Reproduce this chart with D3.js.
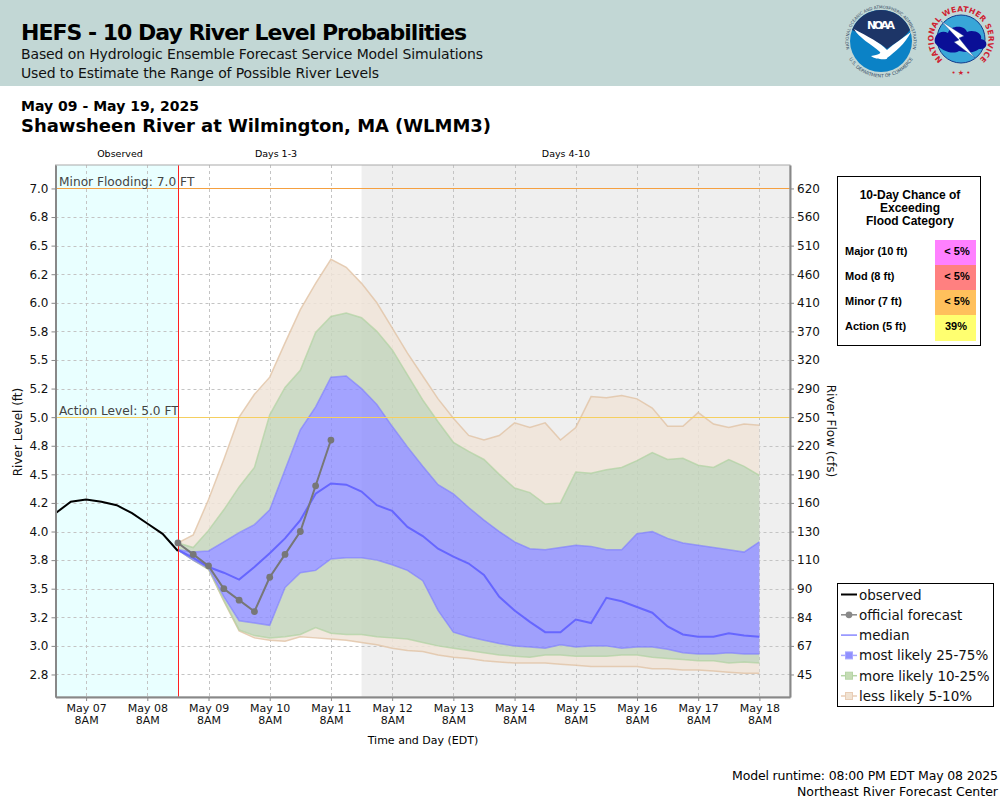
<!DOCTYPE html>
<html lang="en">
<head>
  <meta charset="UTF-8">
  <title>HEFS - 10 Day River Level Probabilities</title>
  <script src="https://d3js.org/d3.v7.min.js"></script>
  <style>
    html, body { margin: 0; padding: 0; background: #fff; }
    svg { display: block; font-family: "DejaVu Sans", sans-serif; }
  </style>
</head>
<body>
  <svg id="chart" width="1000" height="800"></svg>
  <script>
    // axis labels
    const levelTicks = [7, 6.75, 6.5, 6.25, 6, 5.75, 5.5, 5.25, 5, 4.75, 4.5, 4.25, 4, 3.75, 3.5, 3.25, 3, 2.75];
    const levelLabels = ['7.0', '6.8', '6.5', '6.2', '6.0', '5.8', '5.5', '5.2', '5.0', '4.8', '4.5', '4.2', '4.0', '3.8', '3.5', '3.2', '3.0', '2.8'];
    const flowLabels = ['620', '560', '510', '460', '410', '370', '320', '290', '250', '220', '190', '160', '130', '110', '90', '84', '67', '45'];
    const dayLabels = ['May 07', 'May 08', 'May 09', 'May 10', 'May 11', 'May 12', 'May 13', 'May 14', 'May 15', 'May 16', 'May 17', 'May 18'];

    // levels in feet, one value every 6 hours
    const observed = [4.16, 4.26, 4.28, 4.26, 4.23, 4.16, 4.07, 3.98, 3.83];
    const official = [3.9, 3.8, 3.7, 3.5, 3.4, 3.3, 3.6, 3.8, 4.0, 4.4, 4.8];
    const median = [3.84, 3.77, 3.69, 3.64, 3.58, 3.69, 3.81, 3.94, 4.10, 4.33, 4.42, 4.41, 4.35, 4.23, 4.18, 4.04, 3.96, 3.85, 3.78, 3.72, 3.62, 3.43, 3.31, 3.21, 3.12, 3.12, 3.23, 3.20, 3.42, 3.39, 3.34, 3.29, 3.17, 3.10, 3.08, 3.08, 3.11, 3.09, 3.08];
    const tanTop = [3.90, 3.97, 4.28, 4.63, 5.00, 5.20, 5.35, 5.65, 5.94, 6.17, 6.38, 6.31, 6.17, 6.00, 5.78, 5.56, 5.36, 5.16, 4.99, 4.84, 4.80, 4.84, 4.95, 4.91, 4.95, 4.80, 4.91, 5.18, 5.17, 5.19, 5.16, 5.08, 4.92, 4.92, 5.04, 4.94, 4.91, 4.94, 4.93];
    const greenTop = [3.90, 3.86, 4.01, 4.19, 4.39, 4.56, 5.02, 5.26, 5.41, 5.74, 5.88, 5.91, 5.87, 5.75, 5.59, 5.37, 5.15, 4.96, 4.78, 4.70, 4.63, 4.50, 4.38, 4.34, 4.24, 4.25, 4.52, 4.51, 4.54, 4.56, 4.62, 4.69, 4.63, 4.64, 4.58, 4.56, 4.63, 4.57, 4.49];
    const blueTop = [3.84, 3.82, 3.83, 3.91, 3.99, 4.06, 4.19, 4.54, 4.89, 5.09, 5.35, 5.36, 5.25, 5.11, 4.92, 4.74, 4.57, 4.41, 4.33, 4.21, 4.10, 4.00, 3.91, 3.85, 3.84, 3.86, 3.88, 3.87, 3.84, 3.84, 3.98, 4.00, 3.94, 3.90, 3.88, 3.86, 3.84, 3.82, 3.91];
    const blueBottom = [3.84, 3.75, 3.68, 3.43, 3.22, 3.20, 3.18, 3.51, 3.64, 3.66, 3.76, 3.77, 3.77, 3.75, 3.71, 3.66, 3.57, 3.31, 3.12, 3.08, 3.05, 3.02, 3.00, 2.99, 2.98, 3.01, 2.99, 3.00, 3.00, 2.98, 2.99, 2.99, 2.97, 2.94, 2.93, 2.93, 2.94, 2.93, 2.93];
    const greenBottom = [3.84, 3.75, 3.67, 3.40, 3.14, 3.09, 3.07, 3.08, 3.10, 3.16, 3.11, 3.10, 3.10, 3.08, 3.07, 3.06, 3.03, 3.00, 2.98, 2.96, 2.94, 2.92, 2.91, 2.90, 2.92, 2.92, 2.91, 2.91, 2.91, 2.92, 2.92, 2.90, 2.89, 2.88, 2.87, 2.87, 2.85, 2.86, 2.85];
    const tanBottom = [3.84, 3.75, 3.67, 3.39, 3.13, 3.07, 3.05, 3.04, 3.08, 3.07, 3.06, 3.05, 3.03, 3.01, 2.98, 2.96, 2.95, 2.92, 2.90, 2.89, 2.87, 2.86, 2.85, 2.85, 2.85, 2.84, 2.83, 2.82, 2.82, 2.82, 2.82, 2.80, 2.80, 2.79, 2.79, 2.78, 2.77, 2.76, 2.76];

    // flood table
    const floodCategories = ['Major (10 ft)', 'Mod (8 ft)', 'Minor (7 ft)', 'Action (5 ft)'];
    const floodChances = ['< 5%', '< 5%', '< 5%', '39%'];
    const floodColors = ['#ff80ff', '#ff8080', '#ffc05c', '#ffff70'];

    const HOUR = 3600000;
    const start = Date.UTC(2025, 4, 6, 20);
    const forecastStart = Date.UTC(2025, 4, 8, 20);
    const grayStart = Date.UTC(2025, 4, 11, 20);
    const end = Date.UTC(2025, 4, 18, 20);
    const days = dayLabels.map((d, i) => Date.UTC(2025, 4, 7 + i, 8));

    const plotLeft = 55.5, plotRight = 790, plotTop = 165, plotBottom = 697;
    const x = d3.scaleUtc().domain([start, end]).range([plotLeft, plotRight]);
    const y = d3.scaleLinear().domain([2.553, 7.205]).range([plotBottom, plotTop]);
    const crisp = v => Math.round(v) + 0.5;

    const svg = d3.select('#chart');

    // header
    svg.append('rect').attr('width', 1000).attr('height', 86).attr('fill', '#c2d7d5');
    function label(txt, px, py, size, weight, anchor, family) {
      return svg.append('text').attr('x', px).attr('y', py)
        .attr('font-size', size).attr('font-weight', weight || 'normal')
        .attr('text-anchor', anchor || 'start')
        .attr('font-family', family || null)
        .attr('fill', '#000').text(txt);
    }
    label('HEFS - 10 Day River Level Probabilities', 21, 40, 22, 'bold').attr('textLength', 446);
    label('Based on Hydrologic Ensemble Forecast Service Model Simulations', 21, 59, 14, 'normal').attr('textLength', 462).attr('fill', '#111');
    label('Used to Estimate the Range of Possible River Levels', 21, 78, 14, 'normal').attr('textLength', 358).attr('fill', '#111');
    label('May 09 - May 19, 2025', 21, 110.5, 14, 'bold').attr('textLength', 178);
    label('Shawsheen River at Wilmington, MA (WLMM3)', 21, 132, 18, 'bold').attr('textLength', 470);

    drawNoaaLogo();
    drawNwsLogo();

    // section labels above the plot
    label('Observed', 120, 157, 9.5, 'normal', 'middle');
    label('Days 1-3', 276, 157, 9.5, 'normal', 'middle');
    label('Days 4-10', 566, 157, 9.5, 'normal', 'middle');

    // plot backgrounds
    svg.append('rect').attr('x', plotLeft).attr('y', plotTop).attr('width', x(forecastStart) - plotLeft).attr('height', plotBottom - plotTop).attr('fill', '#e9ffff');
    svg.append('rect').attr('x', x(grayStart)).attr('y', plotTop).attr('width', plotRight - x(grayStart)).attr('height', plotBottom - plotTop).attr('fill', '#efefef');

    // grid
    const grid = svg.append('g').attr('stroke', '#c4c4c4').attr('stroke-dasharray', '3,3').attr('stroke-width', 1);
    grid.selectAll('.gy').data(levelTicks).enter().append('line')
      .attr('x1', plotLeft).attr('x2', plotRight)
      .attr('y1', d => crisp(y(d))).attr('y2', d => crisp(y(d)));
    grid.selectAll('.gx').data(days).enter().append('line')
      .attr('y1', plotTop).attr('y2', plotBottom)
      .attr('x1', d => crisp(x(d))).attr('x2', d => crisp(x(d)));

    // probability bands, drawn so they do not overlap
    const fx = (d, i) => x(forecastStart + i * 6 * HOUR);
    function band(upper, lower, fill) {
      const area = d3.area().x((d, i) => fx(d, i)).y0((d, i) => y(lower[i])).y1((d, i) => y(upper[i]));
      svg.append('path').datum(upper).attr('d', area).attr('fill', fill).attr('stroke', 'none');
    }
    function edge(values, color, width) {
      const line = d3.line().x((d, i) => fx(d, i)).y(d => y(d));
      svg.append('path').datum(values).attr('d', line).attr('fill', 'none')
        .attr('stroke', color).attr('stroke-width', width);
    }
    band(tanTop, greenTop, 'rgba(240,228,216,0.85)');
    band(greenBottom, tanBottom, 'rgba(240,228,216,0.85)');
    band(greenTop, blueTop, 'rgba(196,213,188,0.85)');
    band(blueBottom, greenBottom, 'rgba(196,213,188,0.85)');
    band(blueTop, blueBottom, 'rgba(140,140,255,0.8)');
    edge(tanTop, 'rgba(225,195,165,0.8)', 1.5);
    edge(tanBottom, 'rgba(225,195,165,0.8)', 1.5);
    edge(greenTop, 'rgba(175,210,160,0.7)', 1.5);
    edge(greenBottom, 'rgba(175,210,160,0.7)', 1.5);
    edge(blueTop, 'rgba(120,120,255,0.6)', 1.5);
    edge(blueBottom, 'rgba(120,120,255,0.6)', 1.5);
    edge(median, '#6666ff', 2);

    // flood levels
    svg.append('line').attr('x1', plotLeft).attr('x2', plotRight).attr('y1', crisp(y(7))).attr('y2', crisp(y(7))).attr('stroke', '#f5a040').attr('stroke-width', 1);
    svg.append('line').attr('x1', plotLeft).attr('x2', plotRight).attr('y1', crisp(y(5))).attr('y2', crisp(y(5))).attr('stroke', '#f5cf60').attr('stroke-width', 1);
    label('Minor Flooding: 7.0 FT', 59, 186, 12.2, 'normal').attr('fill', '#444');
    label('Action Level: 5.0 FT', 59, 415, 12.2, 'normal').attr('fill', '#444');

    // observed and official forecast
    svg.append('path').datum(observed)
      .attr('d', d3.line().x((d, i) => x(start + i * 6 * HOUR)).y(d => y(d)))
      .attr('fill', 'none').attr('stroke', '#000').attr('stroke-width', 2);
    svg.append('line').attr('x1', crisp(x(forecastStart))).attr('x2', crisp(x(forecastStart))).attr('y1', plotTop).attr('y2', plotBottom).attr('stroke', '#ff2020').attr('stroke-width', 1);
    edge(official, '#777777', 2);
    svg.selectAll('.off').data(official).enter().append('circle')
      .attr('cx', (d, i) => fx(d, i)).attr('cy', d => y(d)).attr('r', 3.4).attr('fill', '#777777');

    // axes
    const leftAxis = d3.axisLeft(y).tickValues(levelTicks).tickSizeInner(4).tickSizeOuter(0).tickPadding(3)
      .tickFormat((d, i) => levelLabels[i]);
    const rightAxis = d3.axisRight(y).tickValues(levelTicks).tickSizeInner(4).tickSizeOuter(0).tickPadding(3)
      .tickFormat((d, i) => flowLabels[i]);
    const bottomAxis = d3.axisBottom(x).tickValues(days).tickSizeInner(4).tickSizeOuter(0).tickPadding(3)
      .tickFormat((d, i) => dayLabels[i]);

    function styleAxis(g, size) {
      g.attr('font-family', '"DejaVu Sans", sans-serif').attr('font-size', size);
      g.select('.domain').attr('stroke', '#888').attr('stroke-width', 2);
      g.selectAll('.tick line').attr('stroke', '#888');
      g.selectAll('.tick text').attr('fill', '#111');
    }
    svg.append('rect').attr('x', plotLeft).attr('y', plotTop).attr('width', plotRight - plotLeft).attr('height', plotBottom - plotTop)
      .attr('fill', 'none').attr('stroke', '#aaa').attr('stroke-width', 1);
    svg.append('g').attr('transform', `translate(${plotLeft},0)`).call(leftAxis).call(styleAxis, 12);
    svg.append('g').attr('transform', `translate(${plotRight},0)`).call(rightAxis).call(styleAxis, 12);
    const xg = svg.append('g').attr('transform', `translate(0,${plotBottom})`).call(bottomAxis).call(styleAxis, 11);
    xg.selectAll('.tick text').each(function () {
      const t = d3.select(this);
      t.append('tspan').attr('x', 0).attr('dy', '1.15em').text('8AM');
    });

    svg.append('text').attr('transform', 'translate(22,432) rotate(-90)').attr('text-anchor', 'middle')
      .attr('font-size', 12).attr('fill', '#111').text('River Level (ft)');
    svg.append('text').attr('transform', 'translate(827,431) rotate(90)').attr('text-anchor', 'middle')
      .attr('font-size', 12).attr('fill', '#111').text('River Flow (cfs)');
    label('Time and Day (EDT)', 423, 744, 11, 'normal', 'middle');

    // flood category table
    const tableX = 837.5, tableY = 176.5;
    svg.append('rect').attr('x', tableX).attr('y', tableY).attr('width', 143).attr('height', 169)
      .attr('fill', '#fff').attr('stroke', '#000').attr('stroke-width', 1);
    const liberation = '"Liberation Sans", Arial, sans-serif';
    ['10-Day Chance of', 'Exceeding', 'Flood Category'].forEach((t, i) => {
      label(t, 910, 199 + i * 13, 12, 'bold', 'middle', liberation);
    });
    floodCategories.forEach((c, i) => {
      const rowY = 240 + i * 25;
      svg.append('rect').attr('x', 935).attr('y', rowY).attr('width', 41).attr('height', i === 3 ? 26 : 25).attr('fill', floodColors[i]);
      label(c, 845, rowY + 15, 11, 'bold', 'start', liberation);
      label(floodChances[i], i === 3 ? 956 : 957, rowY + 15, 11, 'bold', 'middle', liberation);
    });

    // legend
    const legendEntries = ['observed', 'official forecast', 'median', 'most likely 25-75%', 'more likely 10-25%', 'less likely 5-10%'];
    const legendLine = ['#000', '#888', '#8888ff', '#a8a8ff', '#b5d5a5', '#e8cdb5'];
    const legendSwatch = [null, null, null, '#9090ff', '#c5dcb5', '#f0e2d2'];
    svg.append('rect').attr('x', 837.5).attr('y', 583.5).attr('width', 156).attr('height', 123)
      .attr('fill', '#fff').attr('stroke', '#000').attr('stroke-width', 1);
    legendEntries.forEach((t, i) => {
      const rowY = 594.5 + i * 20.3;
      svg.append('line').attr('x1', 841).attr('x2', 857).attr('y1', rowY).attr('y2', rowY)
        .attr('stroke', legendLine[i]).attr('stroke-width', i === 0 ? 2 : 1.5);
      if (i === 1) {
        svg.append('circle').attr('cx', 849).attr('cy', rowY).attr('r', 3.4).attr('fill', '#888');
      }
      if (legendSwatch[i]) {
        svg.append('rect').attr('x', 845.5).attr('y', rowY - 3.5).attr('width', 7).attr('height', 7)
          .attr('fill', legendSwatch[i]).attr('stroke', legendLine[i]);
      }
      label(t, 859, rowY + 5, 13.5, 'normal').attr('fill', '#111');
    });

    // footer
    label('Model runtime: 08:00 PM EDT May 08 2025', 998, 780, 12.5, 'normal', 'end').attr('textLength', 266);
    label('Northeast River Forecast Center', 998, 796, 12.5, 'normal', 'end');

    function ringText(g, id, r, clockwise, txt, size, color, weight, spacing) {
      // clockwise: full circle starting at the bottom, so the text centres on the top of the ring
      const d = clockwise
        ? `M0,${r} A${r},${r} 0 1 1 0,${-r} A${r},${r} 0 1 1 0,${r}`
        : `M${-r},0 A${r},${r} 0 1 0 ${r},0`;
      g.append('path').attr('id', id).attr('d', d).attr('fill', 'none');
      g.append('text').attr('font-size', size).attr('font-weight', weight || 'normal').attr('fill', color)
        .attr('letter-spacing', spacing || 0).attr('text-anchor', 'middle')
        .append('textPath').attr('href', '#' + id).attr('startOffset', '50%').text(txt);
    }

    function drawNoaaLogo() {
      const g = svg.append('g').attr('transform', 'translate(881,41)');
      g.append('circle').attr('r', 31).attr('fill', '#0b82c6');
      g.append('path').attr('d', 'M-29,-11 A31,31 0 0 1 29,-11 C22,-2 14,2 6,8 C0,2 -14,-4 -29,-11 Z').attr('fill', '#1d3567');
      g.append('path').attr('d', 'M-27,-12 C-14,-5 0,2 6,9 C14,2 22,-3 30,-9 C24,3 14,11 6,17 C8,19 -6,19 -10,15 C-2,14 0,12 -1,11 C-10,3 -22,-3 -27,-12 Z').attr('fill', '#fff');
      g.append('text').attr('y', -12).attr('text-anchor', 'middle').attr('font-size', 11).attr('font-weight', 'bold')
        .attr('fill', '#fff').attr('textLength', 28).text('NOAA');
      ringText(g, 'noaaTop', 32.5, true, 'NATIONAL OCEANIC AND ATMOSPHERIC ADMINISTRATION', 4.1, '#33475f');
      ringText(g, 'noaaBottom', 36.5, false, 'U.S. DEPARTMENT OF COMMERCE', 4.6, '#33475f');
    }

    function drawNwsLogo() {
      const g = svg.append('g').attr('transform', 'translate(961,39)');
      g.append('circle').attr('r', 24).attr('fill', '#38a6d8').attr('stroke', '#123c8c').attr('stroke-width', 1);
      g.append('path').attr('d', 'M-26,4 C-28,-4 -20,-10 -13,-6 C-11,-14 4,-14 6,-7 C12,-10 22,-6 20,0 C28,1 27,11 18,10 C11,16 2,12 -2,12 C-8,16 -20,12 -26,4 Z').attr('fill', '#0a0f96');
      g.append('path').attr('d', 'M-20,-18 L3,-3 L-2,-1 L14,19 L-7,3 L-2,1 Z').attr('fill', '#fff').attr('stroke', '#123c8c').attr('stroke-width', 0.4);
      ringText(g, 'nwsTop', 27.5, true, 'NATIONAL WEATHER SERVICE', 7.6, '#cf2030', 'bold', 0.3);
      g.append('text').attr('y', 36).attr('text-anchor', 'middle').attr('font-size', 7).attr('fill', '#cf2030').text('• ★ •');
    }
  </script>
</body>
</html>
